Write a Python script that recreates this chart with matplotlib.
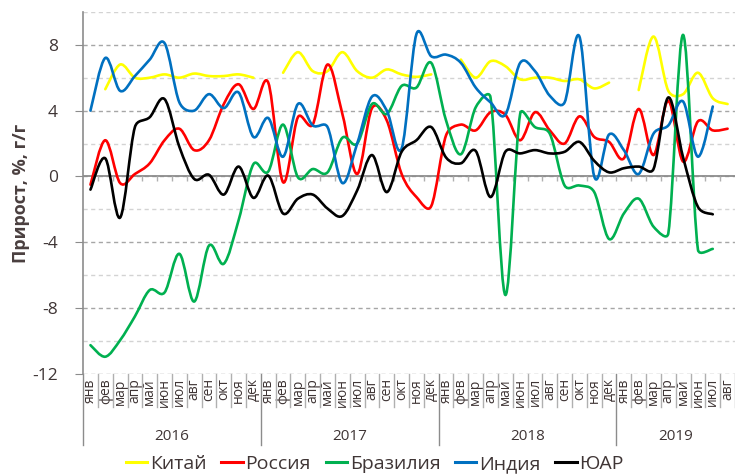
import numpy as np
import matplotlib
matplotlib.use("Agg")
import matplotlib.pyplot as plt
from matplotlib.path import Path
from matplotlib.patches import PathPatch
from matplotlib.lines import Line2D

plt.rcParams['font.family'] = ['Open Sans', 'DejaVu Sans']

nan = np.nan
months = ["янв", "фев", "мар", "апр", "май", "июн",
          "июл", "авг", "сен", "окт", "ноя", "дек"]
years = ["2016", "2017", "2018", "2019"]
n_months = 44  # янв 2016 .. авг 2019

china = [nan, 5.3, 6.8, 6.0, 6.0, 6.2, 6.0, 6.25, 6.1, 6.1, 6.2, 6.0,
         nan, 6.3, 7.55, 6.4, 6.4, 7.55, 6.4, 6.0, 6.5, 6.2, 6.05, 6.2,
         nan, 7.1, 6.0, 7.0, 6.7, 5.9, 6.0, 6.0, 5.8, 5.9, 5.35, 5.7,
         nan, 5.25, 8.5, 5.2, 5.0, 6.3, 4.75, 4.4]
russia = [-0.5, 2.2, -0.4, 0.15, 0.8, 2.2, 2.9, 1.6, 2.2, 4.4, 5.6, 4.1,
          5.7, -0.35, 3.6, 3.15, 6.8, 3.8, 0.15, 4.15, 3.4, 0.15, -1.25, -1.8,
          2.5, 3.15, 2.8, 3.9, 3.75, 2.2, 3.9, 2.8, 2.0, 3.65, 2.4, 2.1,
          1.1, 4.1, 1.3, 4.6, 0.9, 3.35, 2.8, 2.9]
brazil = [-10.25, -10.95, -9.95, -8.5, -6.9, -7.05, -4.7, -7.6, -4.2, -5.3, -2.65, 0.75,
          0.3, 3.15, -0.05, 0.45, 0.25, 2.35, 2.0, 4.4, 3.8, 5.5, 5.4, 6.9,
          3.4, 1.35, 4.2, 4.8, -7.2, 3.8, 3.0, 2.6, -0.55, -0.55, -0.95, -3.8,
          -2.25, -1.35, -3.05, -3.45, 8.6, -4.45, -4.4, nan]
india = [4.0, 7.2, 5.2, 6.1, 7.1, 8.1, 4.5, 4.0, 5.0, 4.15, 5.1, 2.4,
         3.55, 1.2, 4.4, 3.1, 3.0, -0.4, 2.0, 4.85, 4.0, 1.7, 8.65, 7.3,
         7.4, 6.9, 5.4, 4.5, 3.75, 6.9, 6.4, 4.9, 4.5, 8.5, 0.0, 2.55,
         1.6, 0.15, 2.6, 3.1, 4.55, 1.2, 4.25, nan]
sar = [-0.8, 1.1, -2.5, 3.0, 3.6, 4.7, 1.8, -0.15, 0.1, -1.1, 0.6, -1.3,
       0.05, -2.25, -1.35, -1.1, -1.95, -2.4, -0.85, 1.3, -0.95, 1.5, 2.2, 3.0,
       1.15, 0.8, 1.55, -1.25, 1.5, 1.4, 1.6, 1.4, 1.5, 2.1, 0.95, 0.25,
       0.5, 0.6, 0.45, 4.8, 1.15, -1.85, -2.3, nan]

series = [("Китай", china, "#ffff00"),
          ("Россия", russia, "#ff0000"),
          ("Бразилия", brazil, "#00b050"),
          ("Индия", india, "#0070c0"),
          ("ЮАР", sar, "#000000")]

text_col = "#3f3535"
axis_col = "#8c8c8c"
SX, SY = 14.83, 16.5  # approx pixels per x / y unit, for control point limits


def ctrl(p, d, seg):
    # control offset d (data units) limited to half the segment length on screen
    dl = np.hypot(d[0] * SX, d[1] * SY)
    sl = np.hypot(seg[0] * SX, seg[1] * SY) / 2
    if dl > sl and dl > 0:
        d = d * sl / dl
    return p + d


def smooth_path(x, y):
    # Excel-like smoothed line: bezier segments through each data point
    verts, codes = [], []
    ok = ~np.isnan(y)
    i = 0
    while i < len(y):
        if not ok[i]:
            i += 1
            continue
        j = i
        while j < len(y) and ok[j]:
            j += 1
        P = np.column_stack([x[i:j], y[i:j]])
        m = len(P)
        verts.append(tuple(P[0]))
        codes.append(Path.MOVETO)
        for k in range(m - 1):
            a = max(k - 1, 0)
            b = min(k + 2, m - 1)
            seg = P[k + 1] - P[k]
            c1 = ctrl(P[k], (P[k + 1] - P[a]) / 6, seg)
            c2 = ctrl(P[k + 1], -(P[b] - P[k]) / 6, seg)
            verts += [tuple(c1), tuple(c2), tuple(P[k + 1])]
            codes += [Path.CURVE4] * 3
        i = j
    return Path(verts, codes)


fig = plt.figure(figsize=(7.35, 4.74), dpi=100)
ax = fig.add_axes([0.113, 0.211, 0.887, 0.764])

x = np.arange(n_months, dtype=float)
handles = []
for name, vals, col in series:
    p = smooth_path(x, np.array(vals, dtype=float))
    ax.add_patch(PathPatch(p, facecolor="none", edgecolor=col, lw=1.9,
                           capstyle="round", joinstyle="round", zorder=3))
    handles.append(Line2D([], [], color=col, lw=2.2))

ax.set_xlim(-0.5, n_months - 0.5)
ax.set_ylim(-12, 10)

ax.set_yticks(np.arange(-12, 9, 4))
ax.set_yticks(np.arange(-10, 11, 4), minor=True)
ax.set_yticklabels([str(v) for v in range(-12, 9, 4)], fontsize=12.5, color=text_col)
ax.tick_params(axis="y", which="major", length=6, color=axis_col, pad=12)
ax.tick_params(axis="y", which="minor", length=0)
ax.grid(axis="y", which="major", ls=(0, (3, 2.5)), color="#a6a6a6", lw=1)
ax.grid(axis="y", which="minor", ls=(0, (3, 2.5)), color="#d3d3d3", lw=1)
ax.set_axisbelow(True)

for s in ["top", "right", "bottom"]:
    ax.spines[s].set_visible(False)
ax.spines["left"].set_color(axis_col)
ax.spines["left"].set_linewidth(1.2)

# zero line with category ticks
ax.axhline(0, color=axis_col, lw=1.3, zorder=2)
ax.vlines(x[1:] - 0.5, -0.28, 0, color="#b0b0b0", lw=1, zorder=2)

ax.set_xticks(x)
ax.set_xticklabels([months[i % 12] for i in range(n_months)], rotation=90,
                   fontsize=10, color=text_col)
ax.tick_params(axis="x", length=0, pad=3)

tr = ax.get_xaxis_transform()
for i in range(n_months + 1):
    if i % 12 == 0:
        ax.add_line(Line2D([i - 0.5, i - 0.5], [0, -0.196], transform=tr,
                           color=axis_col, lw=1, clip_on=False))
    else:
        ax.add_line(Line2D([i - 0.5, i - 0.5], [0, -0.09], transform=tr,
                           color="#b0b0b0", lw=1, clip_on=False))
for k, yr in enumerate(years):
    start = 12 * k - 0.5
    end = min(12 * (k + 1), n_months) - 0.5
    ax.text((start + end) / 2, -0.172, yr, transform=tr, ha="center",
            va="center", fontsize=11, color=text_col)

ax.set_ylabel("Прирост, %, г/г", fontsize=13, fontweight="bold",
              color="#4a3f3f", labelpad=2)

fig.legend(handles, [s[0] for s in series], loc="lower center",
           bbox_to_anchor=(0.51, -0.035), ncol=5, frameon=False,
           fontsize=14, handlelength=1.1, handletextpad=0.15,
           columnspacing=0.75, labelcolor=text_col)

fig.savefig("out.png", dpi=100)
